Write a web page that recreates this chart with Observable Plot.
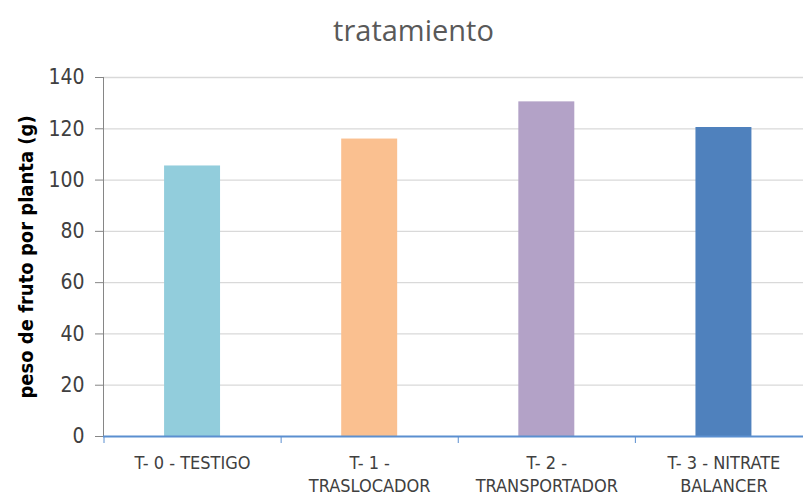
<!DOCTYPE html>
<html><head><meta charset="utf-8">
<script src="https://cdn.jsdelivr.net/npm/d3@7"></script>
<script src="https://cdn.jsdelivr.net/npm/@observablehq/plot@0.6"></script>
<style>
body{margin:0;background:#fff;width:803px;height:498px;overflow:hidden}
#title{height:58px;line-height:60px;text-align:center;font-family:"Open Sans",sans-serif;font-size:29px;color:#595959;padding-left:24px;box-sizing:border-box}
</style></head><body>
<div id="title">tratamiento</div>
<div id="chart"></div>
<script>
const categories = ["T- 0 - TESTIGO","T- 1 - TRASLOCADOR","T- 2 - TRANSPORTADOR","T- 3 - NITRATE BALANCER"];
const values = [105.5, 116, 130.5, 120.5];
const tickLabels = ["T- 0 - TESTIGO","T- 1 -\nTRASLOCADOR","T- 2 -\nTRANSPORTADOR","T- 3 - NITRATE\nBALANCER"];
const yTicks = [0,20,40,60,80,100,120,140];
const colors = ["#92CDDC","#FAC090","#B3A2C7","#4F81BD"];
const yLabel = "peso de fruto por planta (g)";

const data = categories.map((c,i)=>({category:c, index:i, value:values[i], label:tickLabels[i]}));
const barHalf = 0.158;
const font = '"Liberation Sans Narrow","DejaVu Sans Condensed",sans-serif';
const chart = Plot.plot({
  width:803, height:440, marginTop:19, marginBottom:62, marginLeft:103, marginRight:0,
  style:{fontFamily:font, background:"#fff", overflow:"visible"},
  x:{type:"linear", domain:[-0.5,3.5], range:[103.5,812]},
  y:{domain:[0,140]},
  color:{domain:categories, range:colors},
  marks:[
    Plot.ruleY(yTicks.filter(t=>t>0), {stroke:"#d9d9d9", strokeWidth:1.3}),
    Plot.rectY(data, {x1:d=>d.index-barHalf, x2:d=>d.index+barHalf, y:"value", fill:"category"}),
    Plot.frame({anchor:"left", stroke:"#868686"}),
    Plot.axisY({ticks:yTicks, tickSize:8, tickPadding:11, fontSize:21, fill:"#404040", stroke:"#868686", label:null}),
    Plot.ruleY([0], {stroke:"#5B8FD0", strokeWidth:2}),
    Plot.axisX({ticks:[-0.5,0.5,1.5,2.5,3.5], tickSize:7, tickFormat:()=>"", stroke:"#5B8FD0", label:null}),
    Plot.text(data, {x:"index", y:()=>0, text:"label", dy:15, lineAnchor:"top", lineHeight:1.33, fontSize:18, fill:"#404040"}),
    Plot.text([yLabel], {frameAnchor:"left", textAnchor:"middle", rotate:-90, dx:-77, fontWeight:"bold", fontSize:20, fill:"#000"})
  ]
});
document.getElementById("chart").appendChild(chart);
</script>
</body></html>
